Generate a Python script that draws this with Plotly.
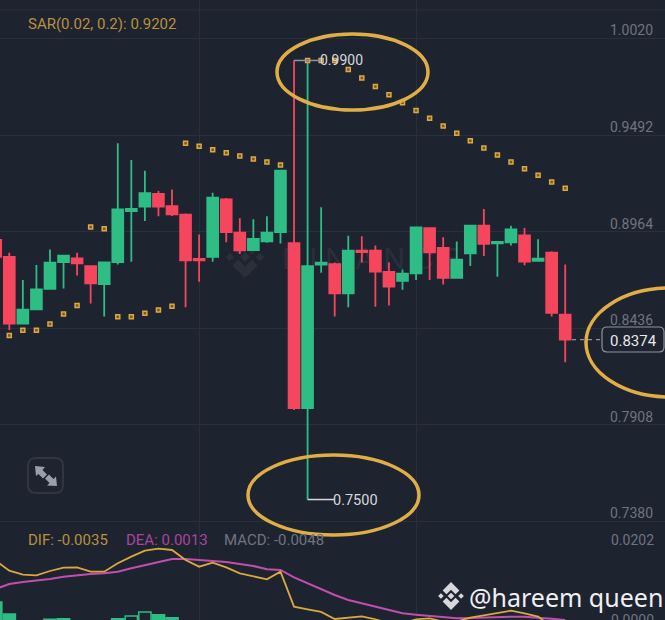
import plotly.graph_objects as go

# candles, index -1 is the one cut off at the left edge
candle_idx = list(range(-1, 42))
opens = [.8919, .8826, .8461, .8540, .8651, .8798, .8818, .8776, .8678, .8798, .9077,
         .9101, .9170, .9103, .9057, .8815, .8826, .9141, .8959, .8864, .8911, .8962,
         .8902, .8000, .8784, .8786, .8627, .8860, .8860, .8744, .8695, .8736, .8984,
         .8875, .8711, .8846, .8997, .8900, .8906, .8944, .8804, .8849, .8510]
highs = [.8930, .8849, .8700, .8782, .8867, .8835, .8849, .8778, .8798, .9447, .9356,
         .9297, .9186, .9195, .9064, .8948, .9177, .9148, .9037, .9032, .9048, .9297,
         .9900, .9900, .9097, .8795, .8942, .8939, .8888, .8797, .8758, .8988, .8988,
         .8933, .8910, .8997, .9088, .8908, .8997, .8984, .8922, .8857, .8784]
lows = [.8820, .8427, .8461, .8540, .8651, .8654, .8725, .8571, .8501, .8785, .8800,
        .9022, .9048, .9050, .8551, .8691, .8800, .8906, .8842, .8864, .8904, .8900,
        .7990, .7500, .8740, .8500, .8551, .8795, .8554, .8560, .8647, .8700, .8700,
        .8676, .8711, .8776, .8831, .8718, .8888, .8780, .8804, .8500, .8250]
closes = [.8827, .8461, .8538, .8649, .8795, .8833, .8791, .8682, .8796, .9086, .9088,
          .9175, .9101, .9059, .8807, .8807, .9150, .8962, .8862, .8924, .8959, .9297,
          .8000, .8776, .8795, .8627, .8860, .8853, .8746, .8664, .8735, .8988, .8851,
          .8711, .8811, .8997, .8897, .8908, .8977, .8800, .8817, .8520, .8374]

sar_low_idx = [0, 1, 2, 3, 4, 5]
sar_low = [.8396, .8425, .8425, .8459, .8514, .8561]
sar_mid_idx = [6, 7]
sar_mid = [.8990, .8980]
sar_up_idx = [8, 9, 10, 11, 12]
sar_up = [.8499, .8499, .8518, .8536, .8556]
sar_top_idx = [13, 14, 15, 16, 17, 18, 19, 20]
sar_top = [.9447, .9431, .9412, .9396, .9378, .9361, .9345, .9329]
sar_fall_idx = list(range(22, 42))
sar_fall = [.9900, .9900, .9900, .9851, .9804, .9758, .9713, .9669, .9627, .9584,
            .9542, .9502, .9461, .9421, .9383, .9345, .9308, .9272, .9236, .9201]

dif = [.01667, .01408, .01304, .01287, .01399, .01485, .01494, .01382, .01382, .01598,
       .0177, .01925, .01977, .01943, .01684, .01511, .01615, .01494, .01339, .01252,
       .01183, .01382, .00476, .00407, .00338, .00156, .00191, .00225, .00148, .00044,
       .00044, .00148, .00173, .00087, .00087, .00191, .00251, .00303, .00372, .00303,
       .00217, -.00042, -.0035]
dea = [.00933, .01062, .01114, .01149, .01192, .01252, .01295, .01321, .01339, .01382,
       .01468, .01554, .01641, .0171, .0171, .01684, .01658, .01632, .0158, .01529,
       .01442, .01425, .01235, .0108, .00924, .00778, .00648, .00562, .00475, .00389,
       .00303, .00268, .00234, .002, .00173, .00182, .002, .00208, .00217, .00217,
       .002, .00165, .0013]

hist_idx = [-1, 0, 1, 2, 3, 4, 5, 6, 7, 8, 9, 10, 11, 12]
hist = [.00596, .00285, .0009, .001, .00148, .00163, .001, .0006, .0008, .00163,
        .00233, .00337, .00267, .00189]
hist_fill = ["#2EBD85"] * 10 + ["#1E2330", "#1E2330"] + ["#2EBD85"] * 2

price_ticks = [1.0020, .9492, .8964, .8436, .7908, .7380]
price_labels = ["1.0020", "0.9492", "0.8964", "0.8436", "0.7908", "0.7380"]
high_mark = .9900
low_mark = .7500
last_price = .8374

BG = "#1E2330"
GRID = "#2A2F3B"
GOLD = "#E0AE46"
MUTED = "#6F7480"
FONT = "Roboto"
W, H = 665, 620


def px(x):
    return x / W


def py(y):
    return 1 - y / H


def poly(points, color, layer="above"):
    d = "M" + " L".join(f"{px(x):.5f},{py(y):.5f}" for x, y in points) + " Z"
    return dict(type="path", xref="paper", yref="paper", path=d, fillcolor=color,
                line=dict(width=0), layer=layer)


def ellipse(x0, y0, x1, y1):
    return dict(type="circle", xref="paper", yref="paper", x0=px(x0), x1=px(x1),
                y0=py(y1), y1=py(y0), line=dict(color=GOLD, width=3.5))


def round_box(x0, y0, x1, y1, r, line, fill):
    d = (f"M{px(x0 + r)},{py(y0)} L{px(x1 - r)},{py(y0)} "
         f"Q{px(x1)},{py(y0)} {px(x1)},{py(y0 + r)} L{px(x1)},{py(y1 - r)} "
         f"Q{px(x1)},{py(y1)} {px(x1 - r)},{py(y1)} L{px(x0 + r)},{py(y1)} "
         f"Q{px(x0)},{py(y1)} {px(x0)},{py(y1 - r)} L{px(x0)},{py(y0 + r)} "
         f"Q{px(x0)},{py(y0)} {px(x0 + r)},{py(y0)} Z")
    return dict(type="path", xref="paper", yref="paper", path=d, fillcolor=fill, line=line)


def logo(cx, cy, r, color, layer):
    out = []
    for dx, dy, s in [(0, 0, .24), (-.72, 0, .2), (.72, 0, .2)]:
        x, y = cx + dx * r, cy + dy * r
        out.append(poly([(x - s * r, y), (x, y - s * r), (x + s * r, y), (x, y + s * r)], color, layer))
    for sign in (-1, 1):
        out.append(poly([(cx, cy + sign * r),
                         (cx + .6 * r, cy + sign * .4 * r),
                         (cx + .32 * r, cy + sign * .12 * r),
                         (cx, cy + sign * .44 * r),
                         (cx - .32 * r, cy + sign * .12 * r),
                         (cx - .6 * r, cy + sign * .4 * r)], color, layer))
    return out


def label(x, y, text, color, size=15, anchor="left"):
    return dict(xref="paper", yref="paper", x=px(x), y=py(y), text=text, showarrow=False,
                xanchor=anchor, yanchor="middle", borderpad=0,
                font=dict(family=FONT, size=size, color=color))


fig = go.Figure()

fig.add_trace(go.Candlestick(
    x=candle_idx, open=opens, high=highs, low=lows, close=closes,
    whiskerwidth=0,
    increasing=dict(line=dict(color="#2EBD85", width=1.8), fillcolor="#2EBD85"),
    decreasing=dict(line=dict(color="#F6465D", width=1.8), fillcolor="#F6465D"),
))

for xs, ys in [(sar_low_idx, sar_low), (sar_mid_idx, sar_mid), (sar_up_idx, sar_up),
               (sar_top_idx, sar_top), (sar_fall_idx, sar_fall)]:
    fig.add_trace(go.Scatter(
        x=xs, y=ys, mode="markers",
        marker=dict(symbol="square", size=4, color="#6E5A2A", line=dict(color="#DDA93F", width=1.5)),
    ))

# leader lines for the high and low marks and the dashed last price line
fig.add_trace(go.Scatter(x=[21, 23], y=[high_mark, high_mark], mode="lines",
                         line=dict(color="#8F94A0", width=1.5)))
fig.add_trace(go.Scatter(x=[22, 24], y=[low_mark, low_mark], mode="lines",
                         line=dict(color="#D5D8DE", width=1.5)))
fig.add_trace(go.Scatter(x=[41.5, 43.6], y=[last_price, last_price], mode="lines",
                         line=dict(color="#8F94A0", width=1.2, dash="4px,4px")))

fig.add_trace(go.Bar(x=hist_idx, y=hist, xaxis="x2", yaxis="y2",
                     marker=dict(color=hist_fill, line=dict(color="#2EBD85", width=1.5))))
fig.add_trace(go.Scatter(x=candle_idx, y=dea, mode="lines", xaxis="x2", yaxis="y2",
                         line=dict(color="#C04FAE", width=2)))
fig.add_trace(go.Scatter(x=candle_idx, y=dif, mode="lines", xaxis="x2", yaxis="y2",
                         line=dict(color="#D9A93E", width=1.8)))

shapes = [
    dict(type="line", xref="paper", yref="paper", x0=0, x1=1, y0=py(10), y1=py(10),
         line=dict(color=GRID, width=1), layer="below"),
    # faint exchange watermark behind the candles
    dict(type="rect", xref="paper", yref="paper", x0=px(276), x1=px(450), y0=py(275), y1=py(240),
         line=dict(width=0), fillcolor="rgba(0,0,0,0)", layer="below",
         label=dict(text="B I N A N C E", textposition="middle left",
                    font=dict(family="Inter", size=29, color="#2A2F3A"))),
    ellipse(277, 34, 428, 110),
    ellipse(248, 455, 419, 535),
    ellipse(586, 288, 754, 397),
    # expand icon
    round_box(28, 458, 63, 493, 8, dict(color="#303541", width=2), "rgba(0,0,0,0)"),
    poly([(35, 466), (45, 467), (42.5, 470), (47, 474.5), (43, 478.5), (38.5, 474), (36, 476)], "#9A9EA8"),
    poly([(57, 486), (47, 485.5), (49.5, 483), (45, 478.5), (49, 474.5), (53.5, 479), (56, 476.5)], "#9A9EA8"),
    # last price box
    round_box(602, 327, 664, 352, 5, dict(color="#8F94A0", width=1.2), BG),
]
shapes += logo(245, 257, 21, "#2A2F3A", "below")
shapes += logo(451, 596, 14, "#D6D8DC", "above")

annotations = [
    label(27, 24, "SAR(0.02, 0.2): 0.9202", "#B8913C"),
    label(27, 540, "DIF: -0.0035", "#B8913C"),
    label(125, 540, "DEA: 0.0013", "#A8469A"),
    label(223, 540, "MACD: -0.0048", MUTED),
    label(655, 540, "0.0202", MUTED, size=14, anchor="right"),
    label(655, 620, "0.0000", MUTED, size=14, anchor="right"),
    label(633, 341, "0.8374", "#E6E8EC", anchor="center"),
    label(468, 597, "@hareem queen", "#F0F0F0", size=25),
]
annotations[-1]["font"]["family"] = "Noto Sans"

# price labels sit just above their grid lines
for val, txt in zip(price_ticks, price_labels):
    annotations.append(dict(xref="paper", yref="y", x=px(655), y=val, text=txt, showarrow=False,
                            xanchor="right", yanchor="bottom", yshift=-2,
                            font=dict(family=FONT, size=14, color=MUTED)))

annotations.append(dict(xref="x", yref="y", x=23, y=high_mark, text="0.9900", showarrow=False,
                        xanchor="left", yanchor="middle", xshift=-3,
                        font=dict(family=FONT, size=14, color="#D5D8DE")))
annotations.append(dict(xref="x", yref="y", x=24, y=low_mark, text="0.7500", showarrow=False,
                        xanchor="left", yanchor="middle", xshift=-4, yshift=-1,
                        font=dict(family=FONT, size=14.5, color="#D5D8DE")))

x_style = dict(range=[-0.686, 48.36], tickvals=[14, 30], showticklabels=False, ticks="",
               showgrid=True, gridcolor=GRID, gridwidth=1, zeroline=False, showline=False,
               rangeslider=dict(visible=False))

fig.update_layout(
    width=W, height=H,
    margin=dict(l=0, r=0, t=0, b=0),
    paper_bgcolor=BG, plot_bgcolor=BG,
    showlegend=False,
    hovermode=False,
    boxgap=0.2, boxgroupgap=0,
    bargap=0.1,
    xaxis=dict(anchor="y", **x_style),
    xaxis2=dict(anchor="y2", **x_style),
    yaxis=dict(domain=[97 / H, 1], range=[.73717, 1.02304], tickvals=price_ticks,
               showticklabels=False, ticks="", gridcolor=GRID, gridwidth=1, zeroline=False, anchor="x"),
    yaxis2=dict(domain=[0, 97 / H], range=[.0013, .02642], showticklabels=False, ticks="",
                showgrid=False, zeroline=False, anchor="x2"),
    shapes=shapes,
    annotations=annotations,
)

# the browser's default body margin would push the chart out of the window
fig.write_html("out.html", config=dict(displayModeBar=False),
               post_script="document.body.style.margin='0';document.body.style.overflow='hidden';")
